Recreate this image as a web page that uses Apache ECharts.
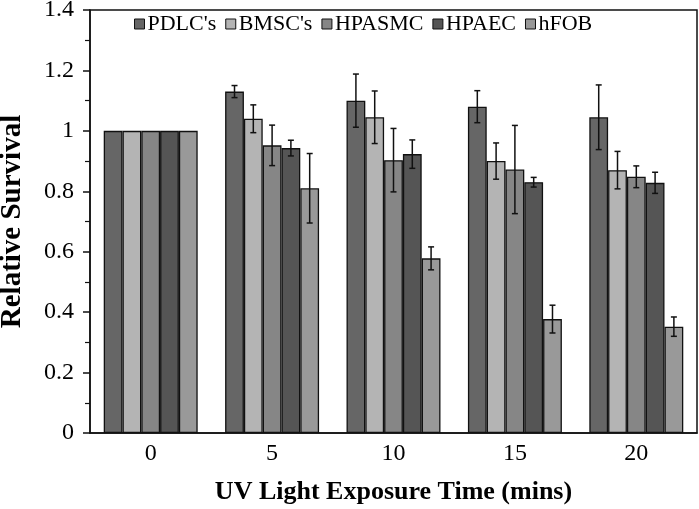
<!DOCTYPE html>
<html><head><meta charset="utf-8">
<script src="https://cdn.jsdelivr.net/npm/echarts@6/dist/echarts.min.js"></script>
<style>html,body{margin:0;padding:0;background:#fff}#c{width:699px;height:509px}</style>
</head><body><div id="c"></div>
<script>
const categories = ['0','5','10','15','20'];
const seriesNames = ["PDLC's","BMSC's","HPASMC","HPAEC","hFOB"];
const pdlc   = [1, 1.13, 1.10, 1.08, 1.045];
const bmsc   = [1, 1.04, 1.045, 0.90, 0.87];
const hpasmc = [1, 0.952, 0.903, 0.872, 0.848];
const hpaec  = [1, 0.943, 0.923, 0.83, 0.828];
const hfob   = [1, 0.81, 0.578, 0.377, 0.352];
const pdlcErr   = [0, 0.02, 0.088, 0.053, 0.107];
const bmscErr   = [0, 0.046, 0.087, 0.06, 0.062];
const hpasmcErr = [0, 0.067, 0.105, 0.146, 0.036];
const hpaecErr  = [0, 0.026, 0.047, 0.016, 0.035];
const hfobErr   = [0, 0.115, 0.038, 0.046, 0.032];
const yTicks = [0, 0.2, 0.4, 0.6, 0.8, 1, 1.2, 1.4];

const values = [pdlc, bmsc, hpasmc, hpaec, hfob];
const errors = [pdlcErr, bmscErr, hpasmcErr, hpaecErr, hfobErr];
const colors = ['#666666','#b4b4b4','#868686','#555555','#999999'];
const catGap = 0.226;
const font = '"Liberation Serif","Times New Roman",serif';

const series = [];
values.forEach((v, i) => {
  series.push({
    name: seriesNames[i], type: 'bar', data: v,
    barGap: '0%', barCategoryGap: (catGap*100)+'%',
    itemStyle: {color: colors[i], borderColor: '#111', borderWidth: 1.3},
    z: 2
  });
});
values.forEach((v, i) => {
  series.push({
    type: 'custom', name: seriesNames[i] + ' err', z: 5,
    data: v.map((val, k) => [k, val - errors[i][k], val + errors[i][k]]).filter((d, k) => errors[i][k] > 0),
    renderItem: function (params, api) {
      const k = api.value(0);
      const lo = api.coord([k, api.value(1)]);
      const hi = api.coord([k, api.value(2)]);
      const bandW = api.size([1, 0])[0];
      const bw = bandW * (1 - catGap) / 5;
      const x = lo[0] + (i - 2) * bw;
      const cap = 3;
      const st = {stroke: '#111', lineWidth: 1.5};
      return {type: 'group', children: [
        {type: 'line', shape: {x1: x, y1: lo[1], x2: x, y2: hi[1]}, style: st},
        {type: 'line', shape: {x1: x - cap, y1: lo[1], x2: x + cap, y2: lo[1]}, style: st},
        {type: 'line', shape: {x1: x - cap, y1: hi[1], x2: x + cap, y2: hi[1]}, style: st}
      ]};
    }
  });
});

const chart = echarts.init(document.getElementById('c'));
chart.setOption({
  animation: false,
  textStyle: {fontFamily: font},
  legend: {
    data: seriesNames, left: 129, top: 8, itemWidth: 10, itemHeight: 10, itemGap: 9,
    icon: 'rect',
    textStyle: {fontFamily: font, fontSize: 22, color: '#000', padding: [0,0,0,-2]},
    itemStyle: {borderColor: '#111', borderWidth: 1}
  },
  grid: {left: 90, right: 2, top: 10, bottom: 76, show: true, borderColor: '#111', borderWidth: 1.5,
         backgroundColor: 'transparent', containLabel: false, outerBoundsMode: 'none'},
  xAxis: {
    type: 'category', data: categories,
    axisLine: {lineStyle: {color: '#111', width: 1.5}},
    axisTick: {alignWithLabel: true, length: 5, inside: false, lineStyle: {color: '#111', width: 1.5}},
    axisLabel: {fontFamily: font, fontSize: 24, color: '#000', margin: 9},
    name: 'UV Light Exposure Time (mins)', nameLocation: 'middle', nameGap: 46,
    nameTextStyle: {fontFamily: font, fontSize: 26, fontWeight: 'bold', color: '#000'}
  },
  yAxis: {
    type: 'value', min: 0, max: 1.4, interval: 0.2,
    axisLine: {show: true, lineStyle: {color: '#111', width: 1.5}},
    axisTick: {show: true, length: 7, lineStyle: {color: '#111', width: 1.5}},
    minorTick: {show: true, splitNumber: 2, length: 5, lineStyle: {color: '#111', width: 1.2}},
    splitLine: {show: false},
    axisLabel: {fontFamily: font, fontSize: 24, color: '#000', margin: 16,
      formatter: v => { const t = yTicks.find(y => Math.abs(y - v) < 1e-9); return t === undefined ? '' : String(t); }},
    name: 'Relative Survival', nameLocation: 'middle', nameGap: 63, nameRotate: 90,
    nameTextStyle: {fontFamily: font, fontSize: 29, fontWeight: 'bold', color: '#000'}
  },
  series: series
});
</script></body></html>
